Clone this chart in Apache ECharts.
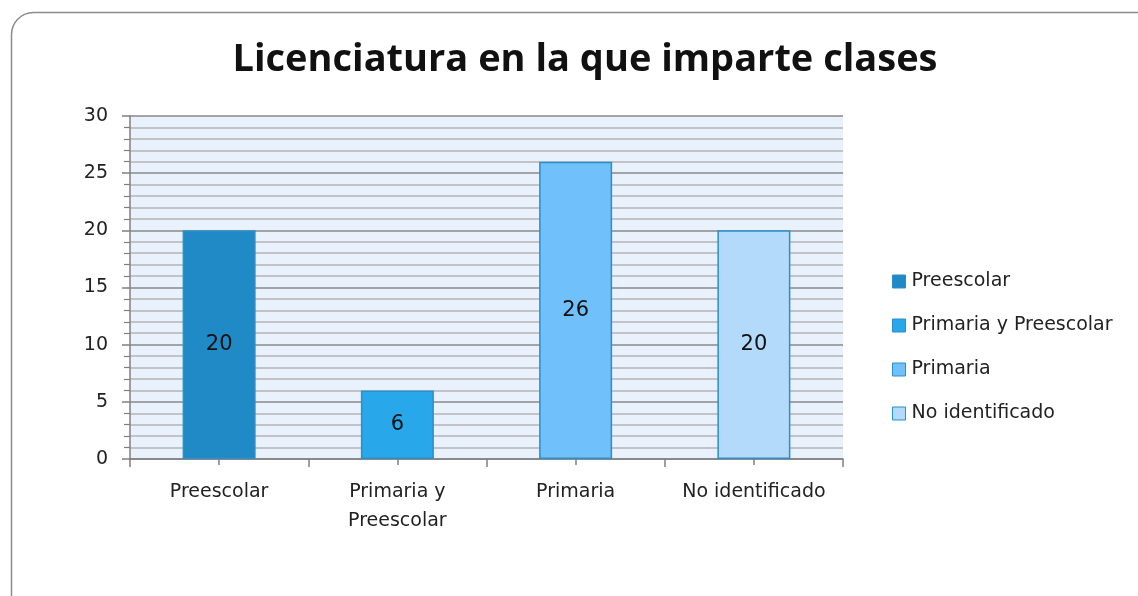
<!DOCTYPE html>
<html>
<head>
<meta charset="utf-8">
<script src="https://cdn.jsdelivr.net/npm/echarts@6/dist/echarts.min.js"></script>
<style>
  html, body { margin: 0; padding: 0; background: #fff; }
  #main { width: 1138px; height: 596px; }
</style>
</head>
<body>
<div id="main"></div>
<script>
const categories = ['Preescolar', 'Primaria y\nPreescolar', 'Primaria', 'No identificado']
const seriesNames = ['Preescolar', 'Primaria y Preescolar', 'Primaria', 'No identificado']
const values = [20, 6, 26, 20]
const colors = ['#1f8ac6', '#29a7eb', '#70c1fb', '#b3d9fb']
const yTicks = [0, 5, 10, 15, 20, 25, 30]

const chart = echarts.init(document.getElementById('main'))

// una serie por categoria, apiladas para que cada barra quede centrada
const series = seriesNames.map((name, i) => ({
    name: name,
    type: 'bar',
    stack: 'total',
    barWidth: 73,
    data: values.map((v, j) => (j === i ? v : '-')),
    itemStyle: { color: colors[i], borderColor: '#2b8fc9', borderWidth: 1.5 },
    label: {
        show: true,
        position: 'inside',
        color: '#111',
        fontSize: 21,
        fontFamily: 'DejaVu Sans'
    }
}))

chart.setOption({
    animation: false,
    graphic: [{
        type: 'rect',
        shape: { x: 11.5, y: 12.5, width: 1160, height: 620, r: 22 },
        style: { fill: 'none', stroke: '#8c8c8c', lineWidth: 1.5 },
        silent: true
    }],
    title: {
        text: 'Licenciatura en la que imparte clases',
        left: 580,
        top: 36,
        textAlign: 'center',
        textStyle: { fontSize: 38, fontWeight: 'bold', color: '#111', fontFamily: 'Open Sans' }
    },
    legend: {
        orient: 'vertical',
        left: 887,
        top: 267,
        itemGap: 25,
        itemWidth: 13,
        itemHeight: 13,
        icon: 'rect',
        data: seriesNames,
        textStyle: { fontSize: 19, color: '#222', fontFamily: 'DejaVu Sans', padding: [0, 0, 0, 1] },
        itemStyle: { borderColor: '#2b8fc9', borderWidth: 1 }
    },
    grid: { left: 130, right: 295, top: 116, bottom: 137, containLabel: false,
        show: true, backgroundColor: '#e8f1fc', borderWidth: 0 },
    xAxis: [{
        type: 'category',
        data: categories,
        axisLine: { lineStyle: { color: '#808080', width: 1.5 } },
        axisTick: { show: true, interval: 0, length: 8, lineStyle: { color: '#808080', width: 1.5 } },
        axisLabel: { interval: 0, fontSize: 19, color: '#222', margin: 19, lineHeight: 29, fontFamily: 'DejaVu Sans' }
    }, {
        type: 'category',
        data: categories,
        position: 'bottom',
        axisLine: { show: false },
        axisTick: { show: true, interval: 0, alignWithLabel: true, length: 6, lineStyle: { color: '#808080', width: 1.5 } },
        axisLabel: { show: false, interval: 0 }
    }],
    yAxis: {
        type: 'value',
        min: yTicks[0],
        max: yTicks[yTicks.length - 1],
        interval: 5,
        axisLine: { show: true, lineStyle: { color: '#808080', width: 1.5 } },
        axisTick: { show: true, length: 8, lineStyle: { color: '#808080', width: 1.5 } },
        minorTick: { show: true, splitNumber: 5, length: 6, lineStyle: { color: '#808080', width: 1.2 } },
        axisLabel: { fontSize: 19, color: '#222', margin: 22, fontFamily: 'DejaVu Sans' },
        splitLine: { lineStyle: { color: '#8a8a8a', width: 1.5 } },
        minorSplitLine: { show: true, lineStyle: { color: '#b4b4b4', width: 1.5 } }
    },
    series: series
})
</script>
</body>
</html>
